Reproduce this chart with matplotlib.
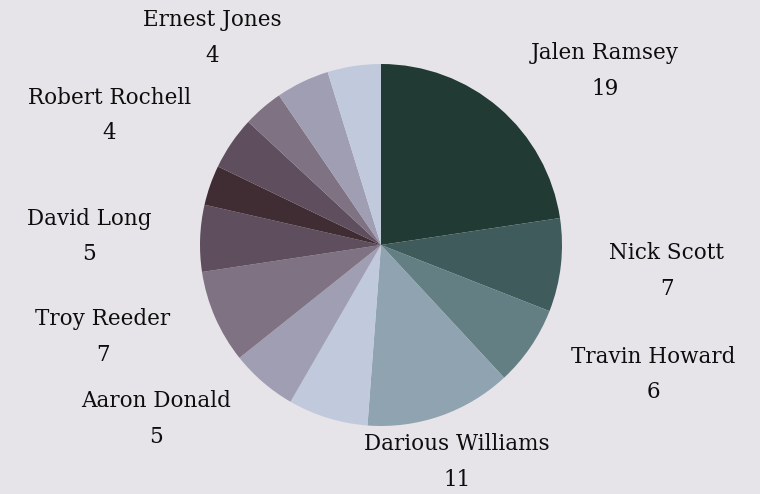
import numpy as np
import matplotlib.pyplot as plt

# slices clockwise from 12 o'clock; None = label hidden in the original
names = ["Jalen Ramsey", "Nick Scott", "Travin Howard", "Darious Williams", None,
         "Aaron Donald", "Troy Reeder", "David Long", None,
         "Robert Rochell", None, "Ernest Jones", None]
values = [19, 7, 6, 11, 6, 5, 7, 5, 3, 4, 3, 4, 4]
colors = ["#213a33", "#3f5b5c", "#647f84", "#8fa3b0", "#c1cadc", "#a09eb2",
          "#7f7283", "#5f4f5e", "#402c33", "#5f4f5e", "#7f7283", "#a09eb2", "#c1cadc"]

bg = "#e6e4e9"
W, H = 760, 494
cx, cy, r_px = 381, 245, 181

fig = plt.figure(figsize=(W / 100, H / 100), dpi=100, facecolor=bg)
ax = fig.add_axes([0, 0, 1, 1])
ax.set_facecolor(bg)

ax.pie(values, colors=colors, startangle=90, counterclock=False,
       radius=1, wedgeprops=dict(linewidth=0))

# labels sit just outside the pie, at the slice's mid angle
total = sum(values)
cum = np.cumsum([0] + values)
label_r = 1.27
for i, name in enumerate(names):
    if name is None:
        continue
    mid = (cum[i] + cum[i + 1]) / 2 / total * 2 * np.pi  # clockwise from top
    sx, sy = np.sin(mid), np.cos(mid)
    if sx > 0.4:
        ha = "left"
    elif sx < -0.4:
        ha = "right"
    else:
        ha = "center"
    ax.text(label_r * sx, label_r * sy, f"{name}\n{values[i]}",
            ha=ha, va="center", multialignment="center",
            fontsize=15.5, family="DejaVu Serif", color="#0d0d0d",
            linespacing=1.8)

ax.set_xlim(-cx / r_px, (W - cx) / r_px)
ax.set_ylim(-(H - cy) / r_px, cy / r_px)
ax.axis("off")

fig.savefig("out.png", dpi=100, facecolor=bg)
